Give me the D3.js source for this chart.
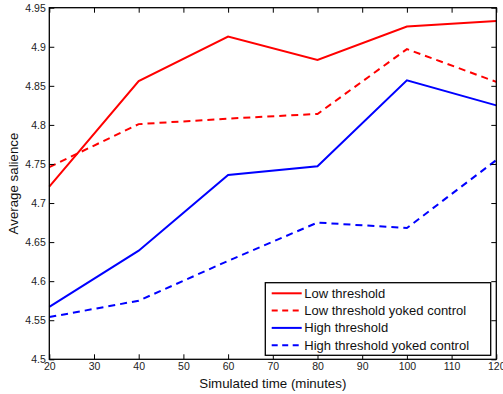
<!DOCTYPE html>
<html>
<head>
<meta charset="utf-8">
<script src="https://cdn.jsdelivr.net/npm/d3@7"></script>
<style>
  body { margin: 0; background: #fff; }
  svg { font-family: "Liberation Sans", Arial, sans-serif; }
</style>
</head>
<body>
<div id="chart"></div>
<script>
// data
const TIMES = [20, 40, 60, 80, 100, 120];
const LOW = [4.721, 4.856, 4.913, 4.883, 4.926, 4.933];
const LOW_YOKED = [4.746, 4.801, 4.808, 4.814, 4.897, 4.855];
const HIGH = [4.567, 4.639, 4.736, 4.747, 4.857, 4.825];
const HIGH_YOKED = [4.554, 4.575, 4.626, 4.675, 4.668, 4.755];
const SERIES_NAMES = ["Low threshold", "Low threshold yoked control", "High threshold", "High threshold yoked control"];
const X_TICKS = [20, 30, 40, 50, 60, 70, 80, 90, 100, 110, 120];
const Y_TICKS = [4.5, 4.55, 4.6, 4.65, 4.7, 4.75, 4.8, 4.85, 4.9, 4.95];

// frame size and margins
const FRAME_WIDTH = 503;
const FRAME_HEIGHT = 394;
const MARGINS = {left: 49.3, right: 6.7, top: 7.7, bottom: 34.7};
const VIS_WIDTH = FRAME_WIDTH - MARGINS.left - MARGINS.right;
const VIS_HEIGHT = FRAME_HEIGHT - MARGINS.top - MARGINS.bottom;

const svg = d3.select("#chart")
  .append("svg")
    .attr("width", FRAME_WIDTH)
    .attr("height", FRAME_HEIGHT);

const X_SCALE = d3.scaleLinear().domain([20, 120]).range([0, VIS_WIDTH]);
const Y_SCALE = d3.scaleLinear().domain([4.5, 4.95]).range([VIS_HEIGHT, 0]);

const g = svg.append("g")
  .attr("transform", "translate(" + MARGINS.left + "," + MARGINS.top + ")");

// series styles
const series = [
  {name: SERIES_NAMES[0], values: LOW, color: "#ff0000", dash: null},
  {name: SERIES_NAMES[1], values: LOW_YOKED, color: "#ff0000", dash: "7,5"},
  {name: SERIES_NAMES[2], values: HIGH, color: "#0000ff", dash: null},
  {name: SERIES_NAMES[3], values: HIGH_YOKED, color: "#0000ff", dash: "7,5"}
];

const line = d3.line()
  .x((d, i) => X_SCALE(TIMES[i]))
  .y((d) => Y_SCALE(d));

g.selectAll(".series")
  .data(series)
  .enter()
  .append("path")
    .attr("class", "series")
    .attr("d", (d) => line(d.values))
    .attr("fill", "none")
    .attr("stroke", (d) => d.color)
    .attr("stroke-width", 2)
    .attr("stroke-dasharray", (d) => d.dash);

// axes, ticks point inwards on all four sides
const TICK = 5;
function styleAxis(sel) {
  sel.select(".domain").remove();
  sel.selectAll(".tick line").attr("stroke", "#000").attr("stroke-width", 1);
  sel.selectAll(".tick text").attr("fill", "#222").attr("font-size", "10.5px");
}

g.append("g")
  .attr("transform", "translate(0," + VIS_HEIGHT + ")")
  .call(d3.axisBottom(X_SCALE).tickValues(X_TICKS).tickSizeInner(-TICK).tickSizeOuter(0).tickPadding(3.5).tickFormat(d3.format("d")))
  .call(styleAxis);

g.append("g")
  .call(d3.axisTop(X_SCALE).tickValues(X_TICKS).tickSizeInner(-TICK).tickSizeOuter(0).tickFormat(""))
  .call(styleAxis);

g.append("g")
  .call(d3.axisLeft(Y_SCALE).tickValues(Y_TICKS).tickSizeInner(-TICK).tickSizeOuter(0).tickPadding(3.5).tickFormat((d) => d3.format("")(+d.toFixed(2))))
  .call(styleAxis);

g.append("g")
  .attr("transform", "translate(" + VIS_WIDTH + ",0)")
  .call(d3.axisRight(Y_SCALE).tickValues(Y_TICKS).tickSizeInner(-TICK).tickSizeOuter(0).tickFormat(""))
  .call(styleAxis);

// box round the plot
g.append("rect")
  .attr("width", VIS_WIDTH)
  .attr("height", VIS_HEIGHT)
  .attr("fill", "none")
  .attr("stroke", "#000")
  .attr("stroke-width", 1.3);

// axis titles
svg.append("text")
  .attr("x", MARGINS.left + VIS_WIDTH / 2)
  .attr("y", 388)
  .attr("text-anchor", "middle")
  .attr("font-size", "13.3px")
  .attr("fill", "#111")
  .text("Simulated time (minutes)");

svg.append("text")
  .attr("transform", "translate(18," + (MARGINS.top + VIS_HEIGHT / 2) + ") rotate(-90)")
  .attr("text-anchor", "middle")
  .attr("font-size", "13.3px")
  .attr("fill", "#111")
  .text("Average salience");

// legend
const LEGEND = {x: 265.3, y: 282.7, w: 225.4, h: 72.6, row: 17.3};
const legend = svg.append("g");
legend.append("rect")
  .attr("x", LEGEND.x)
  .attr("y", LEGEND.y)
  .attr("width", LEGEND.w)
  .attr("height", LEGEND.h)
  .attr("fill", "#fff")
  .attr("stroke", "#000")
  .attr("stroke-width", 1.3);

const items = legend.selectAll(".item")
  .data(series)
  .enter()
  .append("g")
    .attr("class", "item")
    .attr("transform", (d, i) => "translate(" + LEGEND.x + "," + (293.3 + i * LEGEND.row) + ")");

items.append("line")
  .attr("x1", 6.4)
  .attr("x2", 36.4)
  .attr("stroke", (d) => d.color)
  .attr("stroke-width", 2)
  .attr("stroke-dasharray", (d) => d.dash ? "6,4.5" : null);

items.append("text")
  .attr("x", 39)
  .attr("dy", "0.35em")
  .attr("font-size", "13px")
  .attr("fill", "#111")
  .text((d) => d.name);
</script>
</body>
</html>
